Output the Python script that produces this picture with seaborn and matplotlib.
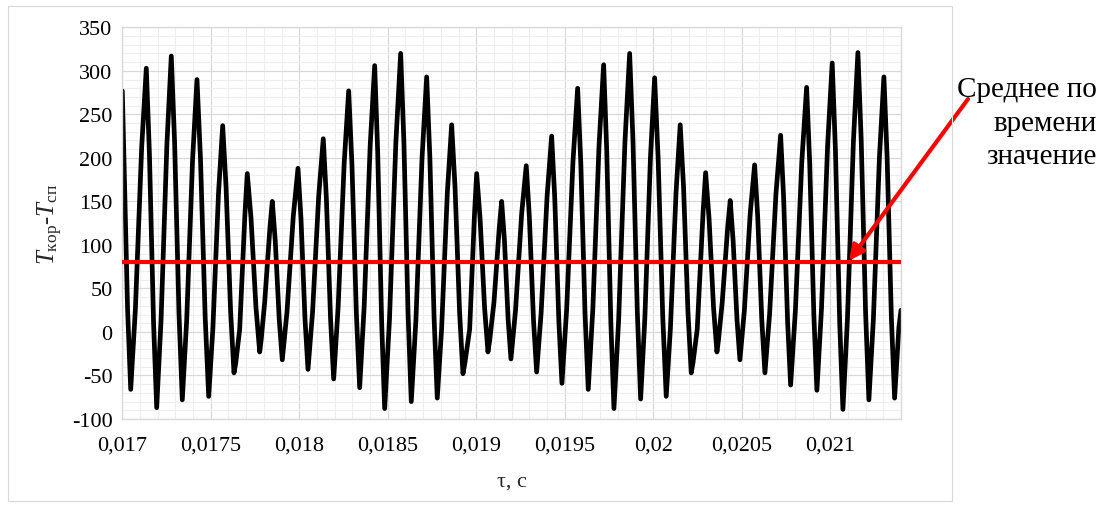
import matplotlib
matplotlib.use("Agg")
import matplotlib.pyplot as plt
import seaborn as sns
import pandas as pd
from matplotlib.patches import Rectangle
from matplotlib.ticker import FixedLocator, MultipleLocator

# ---------------- data (time, T_kor - T_sp) ----------------
curve_points = [
    (0.0170000, 277), (0.0170298, 26), (0.0170475, -66), (0.0170739, 26), (0.0171092, 211),
    (0.0171356, 303), (0.0171532, 205), (0.0171767, 10), (0.0171943, -87), (0.0172191, 14),
    (0.0172521, 216), (0.0172768, 317), (0.0172955, 218), (0.0173203, 21), (0.0173390, -78),
    (0.0173639, 14), (0.0173971, 198), (0.0174220, 290), (0.0174418, 199), (0.0174683, 17),
    (0.0174881, -74), (0.0175118, 4), (0.0175435, 159), (0.0175672, 237), (0.0175864, 166),
    (0.0176119, 24), (0.0176311, -47), (0.0176408, -36), (0.0176633, 3), (0.0176933, 137),
    (0.0177062, 182), (0.0177272, 131), (0.0177553, 28), (0.0177763, -23), (0.0177848, -9),
    (0.0178045, 34), (0.0178346, 121), (0.0178475, 150), (0.0178645, 104), (0.0178871, 13),
    (0.0179040, -32), (0.0179306, 23), (0.0179661, 133), (0.0179927, 188), (0.0180097, 130),
    (0.0180323, 15), (0.0180492, -43), (0.0180751, 23), (0.0181097, 156), (0.0181356, 222),
    (0.0181532, 153), (0.0181767, 15), (0.0181943, -54), (0.0182197, 29), (0.0182537, 194),
    (0.0182791, 277), (0.0182977, 192), (0.0183226, 21), (0.0183412, -64), (0.0183666, 29),
    (0.0184006, 214), (0.0184260, 306), (0.0184430, 207), (0.0184656, 10), (0.0184825, -88),
    (0.0185096, 14), (0.0185458, 218), (0.0185729, 320), (0.0185909, 220), (0.0186148, 20),
    (0.0186328, -80), (0.0186589, 13), (0.0186937, 200), (0.0187198, 293), (0.0187378, 201),
    (0.0187617, 16), (0.0187797, -76), (0.0188041, 3), (0.0188366, 160), (0.0188610, 238),
    (0.0188802, 166), (0.0189057, 23), (0.0189249, -48), (0.0189362, -35), (0.0189627, 3),
    (0.0189904, 137), (0.0190023, 182), (0.0190214, 131), (0.0190470, 28), (0.0190661, -23),
    (0.0190763, -9), (0.0191000, 34), (0.0191305, 121), (0.0191435, 150), (0.0191593, 105),
    (0.0191803, 14), (0.0191960, -31), (0.0192220, 25), (0.0192566, 136), (0.0192825, 191),
    (0.0193001, 132), (0.0193236, 13), (0.0193412, -46), (0.0193666, 22), (0.0194006, 157),
    (0.0194260, 225), (0.0194435, 154), (0.0194667, 12), (0.0194842, -59), (0.0195108, 26),
    (0.0195463, 195), (0.0195729, 280), (0.0195909, 193), (0.0196148, 20), (0.0196328, -66),
    (0.0196589, 27), (0.0196937, 214), (0.0197198, 307), (0.0197373, 208), (0.0197605, 11),
    (0.0197780, -88), (0.0198046, 14), (0.0198401, 218), (0.0198667, 320), (0.0198853, 221),
    (0.0199102, 22), (0.0199288, -77), (0.0199525, 15), (0.0199842, 200), (0.0200079, 292),
    (0.0200276, 200), (0.0200538, 17), (0.0200734, -74), (0.0200971, 4), (0.0201288, 160),
    (0.0201525, 238), (0.0201712, 167), (0.0201960, 24), (0.0202147, -47), (0.0202249, -35),
    (0.0202486, 3), (0.0202818, 138), (0.0202960, 183), (0.0203152, 131), (0.0203407, 28),
    (0.0203599, -23), (0.0203689, -9), (0.0203898, 34), (0.0204214, 122), (0.0204350, 151),
    (0.0204514, 105), (0.0204734, 14), (0.0204898, -32), (0.0205147, 24), (0.0205480, 136),
    (0.0205729, 192), (0.0205904, 132), (0.0206136, 13), (0.0206311, -47), (0.0206577, 21),
    (0.0206932, 158), (0.0207198, 226), (0.0207368, 154), (0.0207594, 11), (0.0207763, -61),
    (0.0208034, 25), (0.0208396, 196), (0.0208667, 281), (0.0208842, 194), (0.0209074, 20),
    (0.0209249, -67), (0.0209508, 27), (0.0209854, 215), (0.0210113, 309), (0.0210295, 209),
    (0.0210537, 10), (0.0210718, -89), (0.0210972, 14), (0.0211311, 219), (0.0211565, 321),
    (0.0211751, 221), (0.0212000, 22), (0.0212186, -78), (0.0212440, 15), (0.0212780, 200),
    (0.0213034, 293), (0.0213215, 201), (0.0213457, 16), (0.0213638, -76), (0.0213880, 5),
    (0.0214000, 25),
]
time_s = [p[0] for p in curve_points]
dT_values = [p[1] for p in curve_points]

mean_time = [0.0170, 0.0214]
mean_value = [80, 80]

xtick_values = [0.017, 0.0175, 0.018, 0.0185, 0.019, 0.0195, 0.020, 0.0205, 0.021]
xtick_labels = ["0,017", "0,0175", "0,018", "0,0185", "0,019", "0,0195", "0,02", "0,0205", "0,021"]
ytick_values = [-100, -50, 0, 50, 100, 150, 200, 250, 300, 350]
ytick_labels = ["-100", "-50", "0", "50", "100", "150", "200", "250", "300", "350"]

x_label = "τ, с"
y_label = r"$T_{\mathrm{кор}}$-$T_{\mathrm{сп}}$"
note_text = "Среднее по\nвремени\nзначение"

# ---------------- styling ----------------
sns.set_theme(style="white")
plt.rcParams["font.family"] = ["Liberation Serif", "DejaVu Serif"]
plt.rcParams["mathtext.fontset"] = "custom"
plt.rcParams["mathtext.rm"] = "Liberation Serif"
plt.rcParams["mathtext.it"] = "Liberation Serif:italic"

W, H = 1112, 506
fig = plt.figure(figsize=(W / 100, H / 100), dpi=100)
fig.patch.set_facecolor("white")
left, right, top, bottom = 122.3, 901, 28.3, 420
ax = fig.add_axes([left / W, 1 - bottom / H, (right - left) / W, (bottom - top) / H])

df = pd.DataFrame({"t": time_s, "dT": dT_values})
sns.lineplot(data=df, x="t", y="dT", ax=ax, color="black", linewidth=3.4,
             estimator=None, sort=False)
ax.lines[-1].set_solid_joinstyle("round")
ax.lines[-1].set_solid_capstyle("round")

dm = pd.DataFrame({"t": mean_time, "v": mean_value})
sns.lineplot(data=dm, x="t", y="v", ax=ax, color="#ff0000", linewidth=3.0,
             estimator=None, zorder=5)

ax.set_xlim(0.017, 0.0214)
ax.set_ylim(-100, 350)

ax.xaxis.set_major_locator(FixedLocator(xtick_values))
ax.set_xticklabels(xtick_labels)
ax.yaxis.set_major_locator(FixedLocator(ytick_values))
ax.set_yticklabels(ytick_labels)
ax.xaxis.set_minor_locator(MultipleLocator(0.0001))
ax.yaxis.set_minor_locator(MultipleLocator(10))

ax.grid(which="major", color="#d9d9d9", linewidth=0.9)
ax.grid(which="minor", color="#eeeeee", linewidth=0.8)
ax.set_axisbelow(True)
ax.tick_params(which="both", length=0, labelsize=16, colors="black")
ax.tick_params(axis="x", pad=12)
ax.tick_params(axis="y", pad=7)
for s in ax.spines.values():
    s.set_color("#d9d9d9")
    s.set_linewidth(1.0)

ax.set_xlabel(x_label, fontsize=16, labelpad=12)
ax.set_ylabel(y_label, fontsize=18)
ax.yaxis.set_label_coords(-0.074, 0.5)

# annotation
fig.text(1097 / W, 1 - 77 / H, note_text, ha="right", va="top", fontsize=21,
         linespacing=1.38, color="black")
ax.annotate("", xy=(0.021107, 82), xycoords="data",
            xytext=(968 / W, 1 - 100 / H), textcoords="figure fraction",
            arrowprops=dict(arrowstyle="-|>", color="#ff0000", lw=3.0,
                            mutation_scale=22, shrinkA=0, shrinkB=0),
            zorder=6)

# outer chart frame
fig.patches.append(Rectangle((8 / W, 4 / H), (952 - 8) / W, (499 - 4) / H,
                             transform=fig.transFigure, fill=False,
                             edgecolor="#d9d9d9", linewidth=0.8))

fig.savefig("out.png", dpi=100, facecolor="white")
